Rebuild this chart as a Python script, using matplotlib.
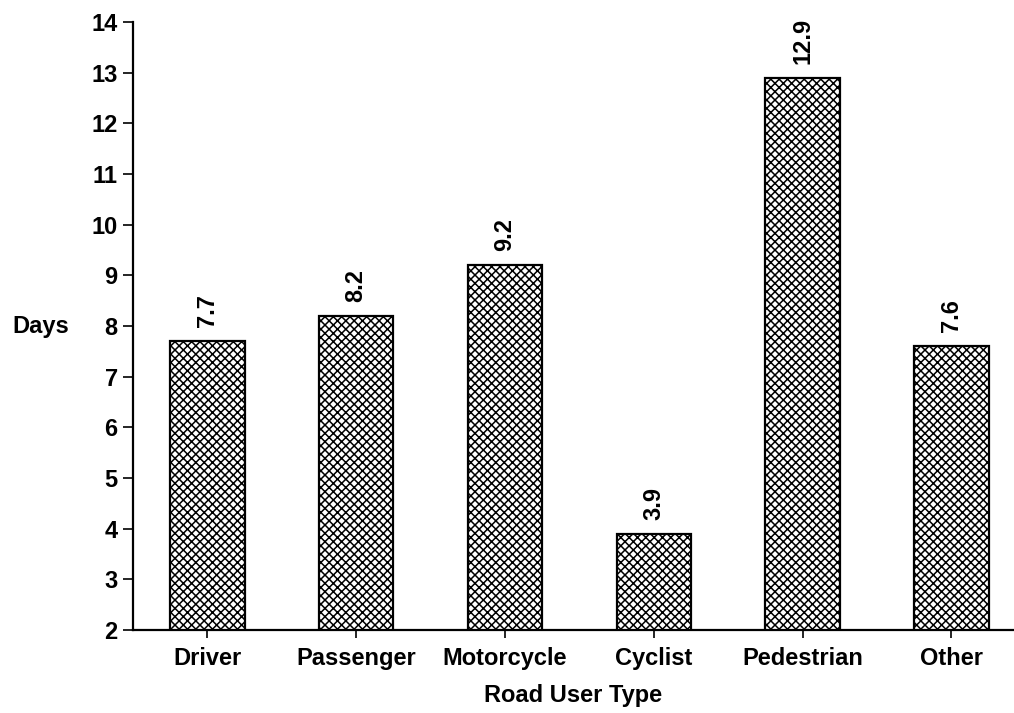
import numpy as np
import matplotlib.pyplot as plt

categories = ['Driver', 'Passenger', 'Motorcycle', 'Cyclist', 'Pedestrian', 'Other']
days = [7.7, 8.2, 9.2, 3.9, 12.9, 7.6]
value_labels = ['7.7', '8.2', '9.2', '3.9', '12.9', '7.6']
yticks = list(range(2, 15))

plt.rcParams['font.family'] = ['Liberation Sans', 'DejaVu Sans']
plt.rcParams['font.weight'] = 'bold'
plt.rcParams['hatch.linewidth'] = 1.1

fig = plt.figure(figsize=(10.14, 7.13), dpi=100)
ax = fig.add_axes([133 / 1014, 1 - 630 / 713, 1 - 133 / 1014, (630 - 22) / 713])

x = np.arange(len(categories))
bars = ax.bar(x, days, width=0.5, bottom=0, color='white', edgecolor='black',
              linewidth=1.6, hatch='xxxx')

for xi, v, lab in zip(x, days, value_labels):
    ax.annotate(lab, (xi, v), xytext=(0, 10), textcoords='offset points',
                rotation=90, ha='center', va='bottom', fontsize=17, fontweight='bold')

ax.set_ylim(2, 14)
ax.set_xlim(-0.5, 5.42)
ax.set_yticks(yticks)
ax.set_xticks(x)
ax.set_xticklabels(categories)
ax.tick_params(axis='y', direction='out', length=7, width=1.2, pad=4, labelsize=17)
ax.tick_params(axis='x', direction='out', length=6, width=1.2, pad=6, labelsize=17)

for side in ['top', 'right']:
    ax.spines[side].set_visible(False)
ax.spines['left'].set_linewidth(1.6)
ax.spines['bottom'].set_linewidth(1.6)

ax.set_xlabel('Road User Type', fontsize=17, fontweight='bold', labelpad=10)
ax.set_ylabel('Days', rotation=0, fontsize=17, fontweight='bold', ha='center', va='center')
ax.yaxis.set_label_coords(-0.105, 0.5)

fig.savefig('out.png', dpi=100)
